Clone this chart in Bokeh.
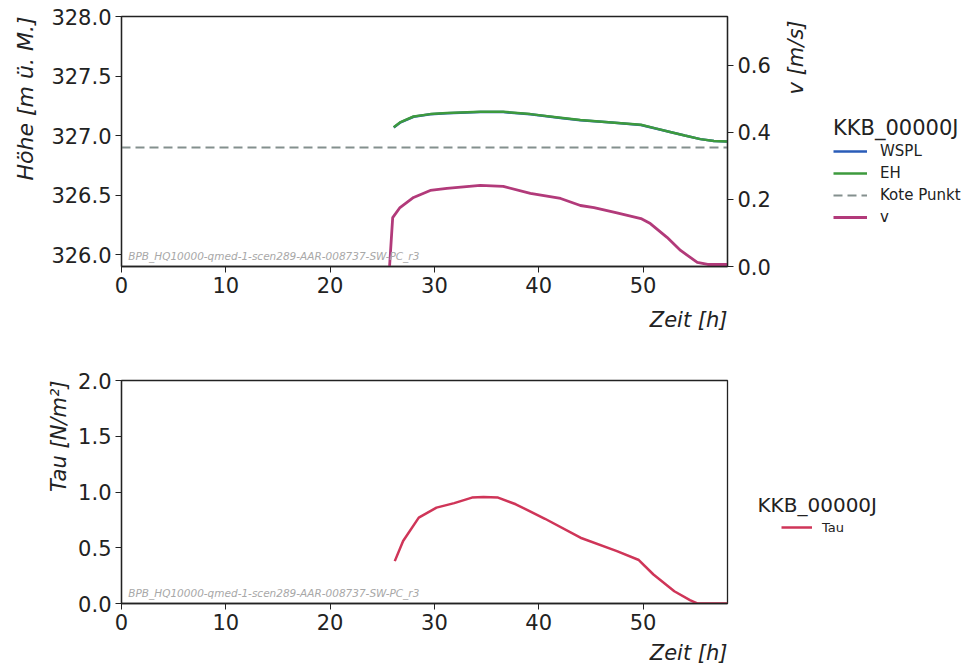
import math

from bokeh.plotting import figure
from bokeh.models import (Range1d, LinearAxis, Legend, LegendItem, Label,
                          Title, FixedTicker, PrintfTickFormatter)
from bokeh.layouts import column, row
from bokeh.embed import file_html
from bokeh.resources import INLINE

# ---- data ---------------------------------------------------------------
point_name = "KKB_00000J"
run_tag = "BPB_HQ10000-qmed-1-scen289-AAR-008737-SW-PC_r3"
t_end = 58.1
x_ticks = [0, 10, 20, 30, 40, 50]

# water level (WSPL) and energy height (EH), m ü. M.
t_h = [26.1, 26.7, 28.0, 29.6, 31.2, 34.4, 36.6, 39.2, 42.1, 44.0, 47.0,
       49.8, 51.2, 52.6, 54.0, 55.5, 56.8, 58.1]
eh = [327.07, 327.11, 327.16, 327.18, 327.19, 327.20, 327.20, 327.18, 327.15,
      327.13, 327.11, 327.09, 327.06, 327.03, 327.00, 326.97, 326.955, 326.95]
wspl = [327.068, 327.108, 327.158, 327.178, 327.187, 327.197, 327.197, 327.178,
        327.148, 327.128, 327.109, 327.089, 327.059, 327.03, 327.0, 326.97,
        326.955, 326.95]
kote_punkt = 326.9

# flow velocity v, m/s
t_v = [25.7, 26.0, 26.7, 28.0, 29.6, 31.2, 34.4, 36.6, 39.2, 42.1, 44.0,
       45.3, 47.5, 49.8, 50.7, 52.3, 53.6, 55.2, 56.2, 58.1]
v = [0.0, 0.146, 0.176, 0.206, 0.227, 0.233, 0.242, 0.239, 0.218, 0.203,
     0.182, 0.176, 0.160, 0.143, 0.128, 0.087, 0.048, 0.012, 0.006, 0.006]

# bed shear stress Tau, N/m²
t_tau = [26.2, 27.0, 28.5, 30.2, 31.9, 33.6, 34.7, 36.1, 37.8, 40.6, 44.0,
         47.5, 49.6, 51.0, 53.0, 54.5, 55.2, 58.1]
tau = [0.38, 0.56, 0.77, 0.86, 0.90, 0.95, 0.955, 0.95, 0.89, 0.76, 0.59,
       0.47, 0.39, 0.26, 0.11, 0.03, 0.0, 0.0]

h_ticks = [326.0, 326.5, 327.0, 327.5, 328.0]
v_ticks = [0.0, 0.2, 0.4, 0.6]
tau_ticks = [0.0, 0.5, 1.0, 1.5, 2.0]

# ---- styling --------------------------------------------------------------
FONT = "DejaVu Sans"
INK = "#222222"
STYLE_WSPL = dict(color="#2a5cb8", line_width=2.5)
STYLE_EH = dict(color="#3d9a3d", line_width=2.5)
STYLE_KOTE = dict(color="#84908e", line_width=2, line_dash="9 5")
STYLE_V = dict(color="#b23a7a", line_width=2.8)
STYLE_TAU = dict(color="#cf3558", line_width=2.5)


def style_axis(ax, ticks, fmt=None):
    ax.ticker = FixedTicker(ticks=ticks, minor_ticks=[])
    ax.major_label_text_font = FONT
    ax.major_label_text_font_size = "21px"
    ax.major_label_text_color = INK
    ax.major_tick_out = 6
    ax.major_tick_in = 0
    ax.minor_tick_out = 0
    ax.minor_tick_in = 0
    ax.major_label_standoff = 4
    ax.axis_line_color = INK
    ax.major_tick_line_color = INK
    ax.axis_line_width = 1.3
    if fmt:
        ax.formatter = PrintfTickFormatter(format=fmt)


def axis_title(text, standoff, size="21px"):
    # axis captions placed at the far end of their axis
    return Title(text=text, align="right", standoff=standoff,
                 text_font=FONT, text_font_style="italic",
                 text_font_size=size, text_color=INK)


def base_figure(frame_h, y_range, top, bottom, right):
    p = figure(frame_width=606, frame_height=frame_h,
               x_range=Range1d(0, t_end), y_range=y_range,
               output_backend="svg", toolbar_location=None,
               min_border_left=121, min_border_right=right,
               min_border_top=top, min_border_bottom=bottom)
    p.xgrid.visible = False
    p.ygrid.visible = False
    p.outline_line_color = INK
    p.outline_line_width = 1.3
    p.background_fill_color = "white"
    p.border_fill_color = "white"
    return p


def side_box(w, h, frame_h):
    # blank strip to the right of a chart that carries its key; its frame
    # lines up with the chart's frame and its data space is in pixels
    s = figure(width=w, height=h, x_range=Range1d(0, w),
               y_range=Range1d(0, frame_h),
               output_backend="svg", toolbar_location=None,
               x_axis_type=None, y_axis_type=None, min_border=0)
    s.grid.visible = False
    s.outline_line_color = None
    s.background_fill_color = "white"
    s.border_fill_color = "white"
    return s


def key(items, loc, title=None, title_size="21px", label_size="15px",
        glyph_w=34, row_h=22, standoff=13):
    kw = dict(items=items, location=loc,
              label_text_font=FONT, label_text_font_size=label_size,
              label_text_color=INK,
              glyph_width=glyph_w, glyph_height=row_h, label_height=row_h,
              label_standoff=standoff, spacing=0, padding=0, margin=0,
              border_line_alpha=0, background_fill_alpha=0)
    if title:
        kw.update(title=title, title_text_font=FONT,
                  title_text_font_size=title_size,
                  title_text_font_style="normal", title_text_color=INK,
                  title_standoff=0)
    return Legend(**kw)


# ---- upper panel: levels and velocity -----------------------------------
p1 = base_figure(250, Range1d(325.9, 328.0), 16, 74, 50)
p1.extra_y_ranges = {"v": Range1d(0, 0.746)}
style_axis(p1.xaxis[0], x_ticks)
style_axis(p1.yaxis[0], h_ticks, "%.1f")
v_axis = LinearAxis(y_range_name="v")
style_axis(v_axis, v_ticks, "%.1f")
p1.add_layout(v_axis, "right")
p1.add_layout(axis_title("Höhe [m ü. M.]", 21, "22px"), "left")
p1.add_layout(axis_title("Zeit [h]", 20), "below")

p1.line([0, t_end], [kote_punkt, kote_punkt], **STYLE_KOTE)
p1.line(t_h, wspl, **STYLE_WSPL)
p1.line(t_h, eh, **STYLE_EH)
p1.line(t_v, v, y_range_name="v", **STYLE_V)

p1.add_layout(Label(x=0.65, y=325.985, text=run_tag, text_font=FONT,
                    text_font_style="italic", text_font_size="10.5px",
                    text_color="#a8a8a8", text_baseline="middle"))

# key strip of the upper panel (also holds the caption of the v axis)
s1 = side_box(194, 340, 250)
s1.add_layout(Label(x=18, y=246, text="v [m/s]", angle=math.pi / 2,
                    text_align="right", text_baseline="middle",
                    text_font=FONT, text_font_style="italic",
                    text_font_size="21px", text_color=INK))
# hidden copies of the series: they only lend their styles to the key
k_wspl = s1.line(t_h, wspl, visible=False, **STYLE_WSPL)
k_eh = s1.line(t_h, eh, visible=False, **STYLE_EH)
k_kote = s1.line([0, t_end], [kote_punkt, kote_punkt], visible=False,
                 **STYLE_KOTE)
k_v = s1.line(t_v, v, visible=False, **STYLE_V)
s1.add_layout(key([LegendItem(label="WSPL", renderers=[k_wspl]),
                   LegendItem(label="EH", renderers=[k_eh]),
                   LegendItem(label="Kote Punkt", renderers=[k_kote]),
                   LegendItem(label="v", renderers=[k_v])],
                  (56, 37), point_name))

# ---- lower panel: shear stress --------------------------------------------
p2 = base_figure(223, Range1d(0, 2.0), 39, 63, 20)
style_axis(p2.xaxis[0], x_ticks)
style_axis(p2.yaxis[0], tau_ticks, "%.1f")
p2.add_layout(axis_title("Tau [N/m²]", 10), "left")
p2.add_layout(axis_title("Zeit [h]", 12), "below")

p2.line(t_tau, tau, **STYLE_TAU)

p2.add_layout(Label(x=0.65, y=0.09, text=run_tag, text_font=FONT,
                    text_font_style="italic", text_font_size="10.5px",
                    text_color="#a8a8a8", text_baseline="middle"))

s2 = side_box(224, 325, 223)
s2.add_layout(Label(x=10, y=96, text=point_name, text_baseline="middle",
                    text_font=FONT, text_font_size="20px", text_color=INK))
k_tau = s2.line(t_tau, tau, visible=False, **STYLE_TAU)
s2.add_layout(key([LegendItem(label="Tau", renderers=[k_tau])], (34, 62),
                  label_size="13px", glyph_w=31, row_h=20, standoff=10))

layout = column(row(p1, s1, spacing=0), row(p2, s2, spacing=0), spacing=0)
open("out.html", "w").write(file_html(layout, INLINE))
